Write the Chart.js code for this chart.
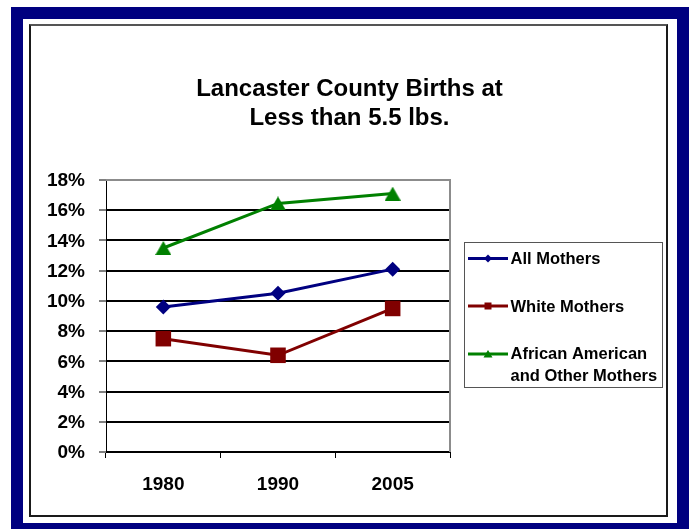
<!DOCTYPE html>
<html>
<head>
<meta charset="utf-8">
<script src="https://cdn.jsdelivr.net/npm/chart.js@4/dist/chart.umd.min.js"></script>
<style>
  html, body { margin: 0; padding: 0; width: 689px; height: 529px; overflow: hidden; background: #fff; }
  #navy { position: absolute; left: 11px; top: 7px; width: 654px; height: 504px; border: 12px solid #000080; }
  #inner { position: absolute; left: 29px; top: 24px; width: 635px; height: 489px; border: 2px solid #1a1a1a; border-top-color: #555; }
  #c { position: absolute; left: 0; top: 0; }
</style>
</head>
<body>
<div id="navy"></div>
<div id="inner"></div>
<canvas id="c" width="689" height="529"></canvas>
<script>
const titleLines = ["Lancaster County Births at", "Less than 5.5 lbs."];
const years = ["1980", "1990", "2005"];
const allMothers = [9.6, 10.5, 12.1];
const whiteMothers = [7.5, 6.4, 9.5];
const africanAmericanOther = [13.5, 16.45, 17.1];
const seriesLabels = ["All Mothers", "White Mothers", ["African American", "and Other Mothers"]];
const yTicks = [0, 2, 4, 6, 8, 10, 12, 14, 16, 18];

const FONT = '"Liberation Sans", Arial, Helvetica, sans-serif';
const BLUE = '#000080', RED = '#800000', GREEN = '#008000';

function triangleImage(w, h, color) {
  const cv = document.createElement('canvas');
  cv.width = w; cv.height = h;
  const c = cv.getContext('2d');
  c.fillStyle = color;
  c.beginPath();
  c.moveTo(w / 2, 0);
  c.lineTo(w, h);
  c.lineTo(0, h);
  c.closePath();
  c.fill();
  return cv;
}
const triBig = triangleImage(16, 14, GREEN);

const framePlugin = {
  id: 'framePlugin',
  afterDraw(chart) {
    const ctx = chart.ctx;
    const a = chart.chartArea;
    ctx.save();
    // plot area border (top and right, gray)
    ctx.strokeStyle = '#8c8c8c';
    ctx.lineWidth = 2;
    ctx.beginPath();
    ctx.moveTo(a.left, a.top);
    ctx.lineTo(a.right, a.top);
    ctx.lineTo(a.right, a.bottom);
    ctx.stroke();

    // title
    ctx.fillStyle = '#000';
    ctx.font = 'bold 24px ' + FONT;
    ctx.textAlign = 'center';
    ctx.textBaseline = 'alphabetic';
    ctx.fillText(titleLines[0], 349.5, 96);
    ctx.fillText(titleLines[1], 349.5, 125);

    // legend box
    ctx.strokeStyle = '#555';
    ctx.lineWidth = 1;
    ctx.strokeRect(464.5, 242.5, 198, 145);

    const items = [
      { y: 258.5, base: [263.5], color: BLUE, shape: 'diamond' },
      { y: 306, base: [311.5], color: RED, shape: 'square' },
      { y: 354, base: [358.5, 380.5], color: GREEN, shape: 'triangle' }
    ];
    ctx.font = 'bold 16.5px ' + FONT;
    ctx.textAlign = 'left';
    items.forEach((it, i) => {
      ctx.strokeStyle = it.color;
      ctx.fillStyle = it.color;
      ctx.lineWidth = 3;
      ctx.beginPath();
      ctx.moveTo(468, it.y);
      ctx.lineTo(508, it.y);
      ctx.stroke();
      const cx = 488, cy = it.y;
      ctx.beginPath();
      if (it.shape === 'diamond') {
        ctx.moveTo(cx, cy - 4); ctx.lineTo(cx + 4, cy); ctx.lineTo(cx, cy + 4); ctx.lineTo(cx - 4, cy);
      } else if (it.shape === 'square') {
        ctx.rect(cx - 3.5, cy - 3.5, 7, 7);
      } else {
        ctx.moveTo(cx, cy - 4); ctx.lineTo(cx + 4.5, cy + 3.5); ctx.lineTo(cx - 4.5, cy + 3.5);
      }
      ctx.closePath();
      ctx.fill();
      ctx.fillStyle = '#000';
      const lbl = seriesLabels[i];
      const lines = Array.isArray(lbl) ? lbl : [lbl];
      lines.forEach((t, k) => ctx.fillText(t, 510.5, it.base[k]));
    });
    ctx.restore();
  }
};

new Chart(document.getElementById('c'), {
  type: 'line',
  data: {
    labels: years,
    datasets: [
      {
        label: 'All Mothers',
        data: allMothers,
        borderColor: BLUE,
        backgroundColor: BLUE,
        borderWidth: 3,
        pointStyle: 'rectRot',
        pointRadius: 7.5,
        pointBorderWidth: 0,
        pointBackgroundColor: BLUE,
        tension: 0
      },
      {
        label: 'White Mothers',
        data: whiteMothers,
        borderColor: RED,
        backgroundColor: RED,
        borderWidth: 3,
        pointStyle: 'rect',
        pointRadius: 11,
        pointBorderWidth: 0,
        pointBackgroundColor: RED,
        tension: 0
      },
      {
        label: 'African American and Other Mothers',
        data: africanAmericanOther,
        borderColor: GREEN,
        backgroundColor: GREEN,
        borderWidth: 3,
        pointStyle: triBig,
        pointRadius: 8,
        pointBorderWidth: 0,
        pointBackgroundColor: GREEN,
        tension: 0
      }
    ]
  },
  options: {
    responsive: false,
    animation: false,
    devicePixelRatio: 1,
    layout: { padding: { left: 0, right: 239, top: 180, bottom: 0 } },
    plugins: {
      legend: { display: false },
      title: { display: false },
      tooltip: { enabled: false }
    },
    scales: {
      x: {
        offset: true,
        grid: {
          offset: true,
          drawOnChartArea: false,
          drawTicks: true,
          tickLength: 6,
          tickColor: '#000',
          tickWidth: 1
        },
        border: { display: true, color: '#000', width: 1 },
        ticks: {
          color: '#000',
          padding: 15,
          font: { family: FONT, size: 19, weight: 'bold' }
        },
        afterFit(scale) { scale.height = 77; }
      },
      y: {
        min: 0,
        max: 18,
        afterBuildTicks(scale) { scale.ticks = yTicks.map(v => ({ value: v })); },
        grid: {
          color: (c) => (c.tick && c.tick.value === 18 ? '#8c8c8c' : '#000'),
          lineWidth: 2,
          drawTicks: true,
          tickLength: 7,
          tickColor: '#000',
          tickWidth: 1
        },
        border: { display: true, color: '#000', width: 1 },
        ticks: {
          color: '#000',
          padding: 14,
          labelOffset: 1,
          font: { family: FONT, size: 19, weight: 'bold' },
          callback: (v) => v + '%'
        },
        afterFit(scale) { scale.width = 106; }
      }
    }
  },
  plugins: [framePlugin]
});
</script>
</body>
</html>
